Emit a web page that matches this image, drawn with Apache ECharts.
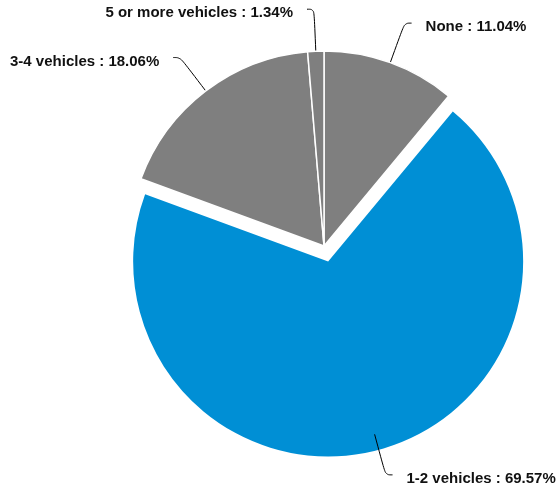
<!DOCTYPE html>
<html>
<head>
<meta charset="utf-8">
<script src="https://cdn.jsdelivr.net/npm/echarts@6/dist/echarts.min.js"></script>
<style>
  html, body { margin: 0; padding: 0; background: #ffffff; }
  #chart { width: 557px; height: 495px; }
</style>
</head>
<body>
<div id="chart"></div>
<script>
// Households by number of vehicles (share, %)
const categories = ['None', '1-2 vehicles', '3-4 vehicles', '5 or more vehicles'];
const shares = [11.04, 69.57, 18.06, 1.34];
const sliceColors = ['#7f7f7f', '#008fd5', '#7f7f7f', '#7f7f7f'];
const highlighted = '1-2 vehicles';

// pulled-out slice: same angles, centre pushed 16px along its mid angle
const pieCenter = [324, 246];
const pieRadius = 195;
const pullOut = 16;

const total = shares.reduce((a, b) => a + b, 0);
const hi = categories.indexOf(highlighted);
const before = shares.slice(0, hi).reduce((a, b) => a + b, 0);
const midAngle = (before + shares[hi] / 2) / total * 2 * Math.PI; // clockwise from 12 o'clock
const pulledCenter = [
  pieCenter[0] + pullOut * Math.sin(midAngle),
  pieCenter[1] - pullOut * Math.cos(midAngle)
];

const chart = echarts.init(document.getElementById('chart'), null, { renderer: 'canvas' });

chart.setOption({
  animation: false,
  series: [
    {
      // the pulled-out slice on its own
      type: 'pie',
      z: 1,
      center: pulledCenter,
      radius: pieRadius,
      startAngle: 90,
      clockwise: true,
      silent: true,
      label: { show: false },
      labelLine: { show: false },
      emphasis: { disabled: true },
      data: categories.map((name, i) => ({
        name: name,
        value: shares[i],
        itemStyle: i === hi
          ? { color: sliceColors[i], borderWidth: 0 }
          : { color: 'rgba(0,0,0,0)', borderWidth: 0 }
      }))
    },
    {
      // the remaining slices, plus every label
      type: 'pie',
      z: 2,
      center: pieCenter,
      radius: pieRadius,
      startAngle: 90,
      clockwise: true,
      avoidLabelOverlap: false,
      label: {
        show: true,
        position: 'outside',
        formatter: p => '{t|' + p.name + ' : ' + p.value.toFixed(2) + '%}',
        fontFamily: 'Liberation Sans, Arial, sans-serif',
        fontWeight: 'bold',
        fontSize: 15,
        color: '#111111',
        padding: [8, 0, 0, 0],
        distanceToLabelLine: 14,
        rich: {
          t: {
            fontFamily: 'Liberation Sans, Arial, sans-serif',
            fontWeight: 'bold',
            fontSize: 15,
            color: '#111111'
          }
        }
      },
      labelLine: {
        show: true,
        length: 42,
        length2: 7,
        smooth: 0.4,
        lineStyle: { color: '#000000', width: 1 }
      },
      emphasis: { disabled: true },
      data: categories.map((name, i) => ({
        name: name,
        value: shares[i],
        itemStyle: i === hi
          ? { color: 'rgba(0,0,0,0)', borderWidth: 0 }
          : { color: sliceColors[i], borderColor: '#ffffff', borderWidth: 1.5 }
      }))
    }
  ]
});
</script>
</body>
</html>
